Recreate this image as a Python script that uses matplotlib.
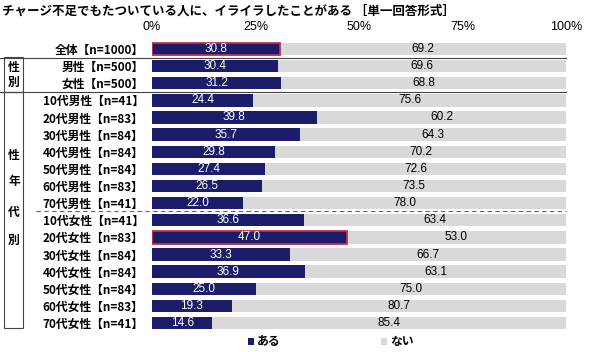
import matplotlib.pyplot as plt
from matplotlib.patches import Rectangle
from matplotlib.lines import Line2D

plt.rcParams['font.family'] = ['Noto Sans CJK JP', 'DejaVu Sans']

title = 'チャージ不足でもたついている人に、イライラしたことがある ［単一回答形式］'
labels = ['全体【n=1000】', '男性【n=500】', '女性【n=500】',
          '10代男性【n=41】', '20代男性【n=83】', '30代男性【n=84】', '40代男性【n=84】',
          '50代男性【n=84】', '60代男性【n=83】', '70代男性【n=41】',
          '10代女性【n=41】', '20代女性【n=83】', '30代女性【n=84】', '40代女性【n=84】',
          '50代女性【n=84】', '60代女性【n=83】', '70代女性【n=41】']
aru = [30.8, 30.4, 31.2, 24.4, 39.8, 35.7, 29.8, 27.4, 26.5, 22.0,
       36.6, 47.0, 33.3, 36.9, 25.0, 19.3, 14.6]
nai = [69.2, 69.6, 68.8, 75.6, 60.2, 64.3, 70.2, 72.6, 73.5, 78.0,
       63.4, 53.0, 66.7, 63.1, 75.0, 80.7, 85.4]
highlight = [0, 11]

navy = '#1c1c6b'
gray = '#d9d9d9'

fig = plt.figure(figsize=(6, 3.52), dpi=100)
W, H = 600, 352
ax = fig.add_axes([152 / W, 1 - 331.6 / H, (566 - 152) / W, (331.6 - 40.4) / H])

y = list(range(len(labels)))
ax.barh(y, aru, height=0.72, color=navy, label='ある')
ax.barh(y, nai, left=aru, height=0.72, color=gray, label='ない')
for i in highlight:
    ax.barh(i, aru[i], height=0.72, color='none', edgecolor='#c0304a', linewidth=1.3)

for i, (a, n) in enumerate(zip(aru, nai)):
    ax.text(a / 2, i, f'{a:.1f}', ha='center', va='center', color='white', fontsize=8.5,
            family='Liberation Sans')
    ax.text(a + n / 2, i, f'{n:.1f}', ha='center', va='center', color='black', fontsize=8.5,
            family='Liberation Sans')

ax.set_xlim(0, 100)
ax.set_ylim(16.5, -0.5)
ax.xaxis.tick_top()
ax.set_xticks([0, 25, 50, 75, 100])
ax.set_xticklabels(['0%', '25%', '50%', '75%', '100%'], fontsize=9, family='Liberation Sans')
ax.tick_params(axis='x', length=0, pad=5)
ax.set_yticks(y)
ax.set_yticklabels(labels, fontsize=8.5, fontweight='bold')
ax.tick_params(axis='y', length=0, pad=6)
for s in ax.spines.values():
    s.set_visible(False)

# separators and group boxes (figure pixel coords)
def fx(px):
    return px / W

def fy(py):
    return 1 - py / H

for py in [57.5, 91.5]:
    fig.add_artist(Line2D([fx(0), fx(566)], [fy(py), fy(py)], color='#444444', lw=0.8))
fig.add_artist(Line2D([fx(36), fx(566)], [fy(211), fy(211)], color='#666666', lw=0.8,
                      linestyle=(0, (4, 3))))
fig.add_artist(Rectangle((fx(4), fy(91.5)), fx(19), fy(57.5) - fy(91.5), fill=False,
                         edgecolor='#444444', lw=0.8))
fig.add_artist(Rectangle((fx(4), fy(328)), fx(19), fy(91.5) - fy(328), fill=False,
                         edgecolor='#444444', lw=0.8))

fig.text(fx(14), fy(68), '性', ha='center', va='center', fontsize=8.5, fontweight='bold')
fig.text(fx(14), fy(82), '別', ha='center', va='center', fontsize=8.5, fontweight='bold')
for ch, py in zip(['性', '年', '代', '別'], [155, 181, 212, 240]):
    fig.text(fx(14), fy(py), ch, ha='center', va='center', fontsize=8.5, fontweight='bold')

fig.text(fx(2), fy(11), title, ha='left', va='center', fontsize=9, fontweight='bold')

handles, names = ax.get_legend_handles_labels()
fig.legend(handles[:2], names[:2], loc='center', bbox_to_anchor=(fx(331), fy(342)), ncol=2,
           frameon=False, handlelength=0.5, handleheight=0.5, handletextpad=0.3,
           columnspacing=8.5, borderaxespad=0, borderpad=0,
           prop={'weight': 'bold', 'size': 8.5})

fig.savefig('out.png', dpi=100)
